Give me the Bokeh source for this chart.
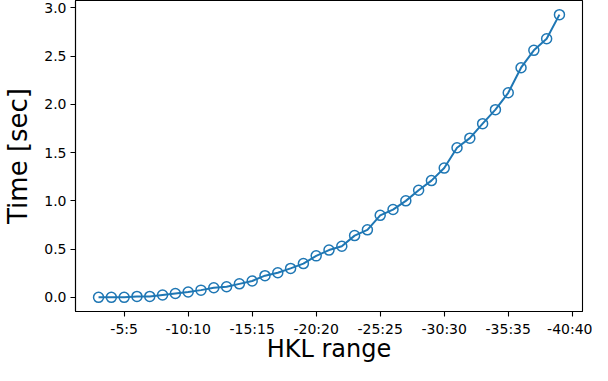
from bokeh.plotting import figure
from bokeh.models import FixedTicker, Range1d, PrintfTickFormatter
from bokeh.embed import file_html
from bokeh.resources import INLINE

# HKL range n for "-n:n"
hkl_n = [3, 4, 5, 6, 7, 8, 9, 10, 11, 12, 13, 14, 15, 16, 17, 18, 19, 20, 21,
         22, 23, 24, 25, 26, 27, 28, 29, 30, 31, 32, 33, 34, 35, 36, 37, 38, 39]
time_sec = [0.00, 0.00, 0.00, 0.01, 0.01, 0.025, 0.04, 0.055, 0.075, 0.10,
            0.11, 0.14, 0.17, 0.225, 0.255, 0.30, 0.35, 0.43, 0.49,
            0.53, 0.64, 0.70, 0.85, 0.91, 1.00, 1.11, 1.21, 1.34, 1.55,
            1.65, 1.80, 1.945, 2.12, 2.38, 2.56, 2.68, 2.93]
x_tick_pos = [5, 10, 15, 20, 25, 30, 35, 40]
x_tick_labels = ["-5:5", "-10:10", "-15:15", "-20:20", "-25:25", "-30:30", "-35:35", "-40:40"]
y_ticks = [0.0, 0.5, 1.0, 1.5, 2.0, 2.5, 3.0]

FONT = "DejaVu Sans"
BLUE = "#1f77b4"

p = figure(width=592, height=365, output_backend="svg", toolbar_location=None,
           x_range=Range1d(1.2, 40.8), y_range=Range1d(-0.1465, 3.0765),
           min_border_left=74, min_border_right=10, min_border_top=0,
           min_border_bottom=0)
p.background_fill_color = "white"
p.border_fill_color = "white"
p.outline_line_color = "black"
p.outline_line_width = 1.1
p.xgrid.visible = False
p.ygrid.visible = False

p.line(hkl_n, time_sec, line_color=BLUE, line_width=2)
p.scatter(hkl_n, time_sec, marker="circle", size=10, fill_color=None,
          line_color=BLUE, line_width=1.5)

p.xaxis.ticker = FixedTicker(ticks=x_tick_pos)
p.xaxis.major_label_overrides = {t: l for t, l in zip(x_tick_pos, x_tick_labels)}
p.yaxis.ticker = FixedTicker(ticks=y_ticks)
p.yaxis.formatter = PrintfTickFormatter(format="%.1f")

for ax in (p.xaxis, p.yaxis):
    ax.axis_line_color = "black"
    ax.axis_line_width = 1.1
    ax.major_tick_line_color = "black"
    ax.major_tick_line_width = 1.1
    ax.major_tick_in = 0
    ax.major_tick_out = 5
    ax.minor_tick_line_color = None
    ax.major_label_text_font = FONT
    ax.major_label_text_font_size = "14px"
    ax.major_label_text_color = "black"
    ax.axis_label_text_font = FONT
    ax.axis_label_text_font_style = "normal"
    ax.axis_label_text_color = "black"

p.xaxis.axis_label = "HKL range"
p.xaxis.axis_label_text_font_size = "24px"
p.xaxis.major_label_standoff = 4
p.xaxis.axis_label_standoff = -5

p.yaxis.axis_label = "Time [sec]"
p.yaxis.axis_label_text_font_size = "26px"
p.yaxis.major_label_standoff = 4
p.yaxis.axis_label_standoff = 8

open("out.html", "w").write(file_html(p, INLINE))
